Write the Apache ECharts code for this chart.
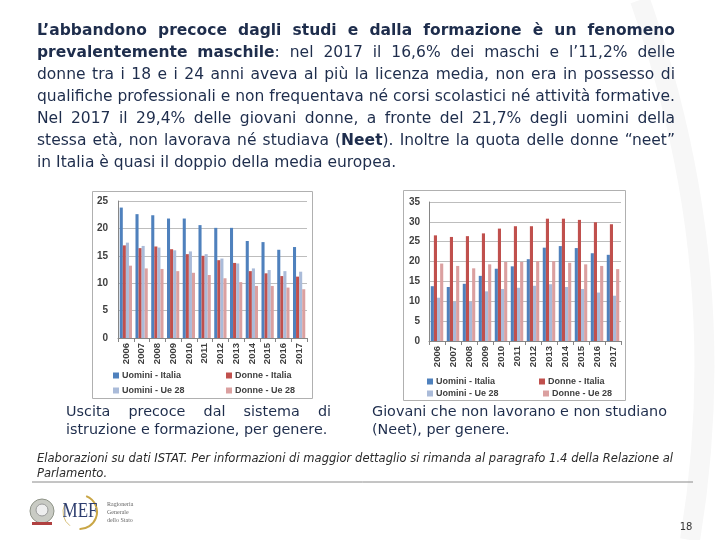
<!DOCTYPE html>
<html><head><meta charset="utf-8">
<script src="https://cdn.jsdelivr.net/npm/echarts@6/dist/echarts.min.js"></script>
<style>html,body{margin:0;padding:0;background:#fff}#c{width:720px;height:540px}</style>
</head><body><div id="c"></div>
<script>
// ---------- DATA ----------
const years = ['2006','2007','2008','2009','2010','2011','2012','2013','2014','2015','2016','2017'];
const seriesNames = ['Uomini - Italia','Donne - Italia','Uomini - Ue 28','Donne - Ue 28'];
// Chart 1: early leavers from education and training (%)
const elUominiItalia = [23.8,22.6,22.4,21.8,21.8,20.6,20.1,20.1,17.7,17.5,16.1,16.6];
const elDonneItalia  = [16.9,16.4,16.7,16.2,15.3,15.0,14.2,13.7,12.2,11.8,11.3,11.2];
const elUominiUe28   = [17.4,16.8,16.5,16.0,15.8,15.3,14.5,13.6,12.7,12.4,12.2,12.1];
const elDonneUe28    = [13.2,12.7,12.6,12.2,11.9,11.5,10.9,10.2,9.5,9.5,9.2,8.9];
// Chart 2: NEET (%)
const neetUominiItalia = [13.8,13.6,14.4,16.4,18.2,18.8,20.6,23.5,23.9,23.4,22.1,21.7];
const neetDonneItalia  = [26.6,26.2,26.4,27.1,28.3,28.9,28.9,30.8,30.8,30.5,29.9,29.4];
const neetUominiUe28   = [10.9,9.9,9.9,12.5,13.1,13.4,13.9,14.3,13.6,13.1,12.2,11.4];
const neetDonneUe28    = [19.5,18.9,18.3,19.3,19.9,19.9,20.1,20.1,19.7,19.3,18.9,18.1];
const y1Ticks = [0,5,10,15,20,25];
const y2Ticks = [0,5,10,15,20,25,30,35];

// ---------- TEXTS ----------
const titleLines = [
 "**L’abbandono precoce dagli studi e dalla formazione è un fenomeno**",
 "**prevalentemente maschile**: nel 2017 il 16,6% dei maschi e l’11,2% delle",
 "donne tra i 18 e i 24 anni aveva al più la licenza media, non era in possesso di",
 "qualifiche professionali e non frequentava né corsi scolastici né attività formative.",
 "Nel 2017 il 29,4% delle giovani donne, a fronte del 21,7% degli uomini della",
 "stessa età, non lavorava né studiava (**Neet**). Inoltre la quota delle donne “neet”",
 "in Italia è quasi il doppio della media europea."
];
const caption1 = ["Uscita precoce dal sistema di","istruzione e formazione, per genere."];
const caption2 = ["Giovani che non lavorano e non studiano","(Neet), per genere."];
const sourceLines = ["Elaborazioni su dati ISTAT. Per informazioni di maggior dettaglio si rimanda al paragrafo 1.4 della Relazione al","Parlamento."];
const pageNumber = "18";

// ---------- TEXT LAYOUT HELPERS ----------
const ctx = document.createElement('canvas').getContext('2d');
function parse(line){
  const words=[]; let cur=[]; let bold=false; let buf='';
  const flush=()=>{ if(buf){cur.push({t:buf,b:bold}); buf='';} };
  for(let i=0;i<line.length;i++){
    if(line[i]==='*'&&line[i+1]==='*'){ flush(); bold=!bold; i++; continue; }
    if(line[i]===' '){ flush(); if(cur.length) words.push(cur); cur=[]; continue; }
    buf+=line[i];
  }
  flush(); if(cur.length) words.push(cur);
  return words;
}
function fontOf(b,cfg){ return (cfg.italic?'italic ':'')+(b?'bold ':'')+cfg.size+'px '+cfg.fam; }
function segW(seg,cfg){ ctx.font=fontOf(seg.b,cfg); return ctx.measureText(seg.t).width; }
function wordW(w,cfg){ return w.reduce((s,g)=>s+segW(g,cfg),0); }
function spaceW(cfg){ ctx.font=fontOf(false,cfg); return ctx.measureText(' ').width; }
function natural(line,cfg){ const ws=parse(line); return ws.reduce((s,w)=>s+wordW(w,cfg),0)+spaceW(cfg)*(ws.length-1); }
function layLine(line,x0,x1,y,cfg,justify,out){
  const ws=parse(line), sc=cfg.scale;
  const widths=ws.map(w=>wordW(w,cfg)*sc);
  let gap=spaceW(cfg)*sc;
  if(justify&&ws.length>1) gap=(x1-x0-widths.reduce((a,b)=>a+b,0))/(ws.length-1);
  let x=x0;
  ws.forEach((w,i)=>{
    let xx=x;
    w.forEach(g=>{
      out.push({type:'text',x:xx,y:y,scaleX:sc,silent:true,
        style:{text:g.t,font:fontOf(g.b,cfg),fill:cfg.color,verticalAlign:'middle',textVerticalAlign:'middle'}});
      xx+=segW(g,cfg)*sc;
    });
    x+=widths[i]+gap;
  });
}

const graphics = [];
// faint background decoration
graphics.push({type:'bezierCurve',silent:true,z:-10,shape:{x1:640,y1:0,cpx1:735,cpy1:270,x2:690,y2:540},style:{stroke:'#f7f7f7',lineWidth:20,fill:null}});

const navy = '#1E2D4C';
const titleCfg = {size:15,fam:"'DejaVu Sans'",italic:false,color:navy};
titleCfg.scale = 638/natural(titleLines[3],titleCfg);
const titleY = [31,53,75,97,119,141,163];
titleLines.forEach((l,i)=>layLine(l,37,675,titleY[i],titleCfg,i<titleLines.length-1,graphics));

const capCfg = {size:14,fam:"'DejaVu Sans'",italic:false,color:navy};
capCfg.scale = (667-372)/natural(caption2[0],capCfg);
layLine(caption1[0],66,331,412,capCfg,true,graphics);
layLine(caption1[1],66,331,430,capCfg,false,graphics);
layLine(caption2[0],372,667,412,capCfg,false,graphics);
layLine(caption2[1],372,667,430,capCfg,false,graphics);

const srcCfg = {size:12,fam:"'DejaVu Sans'",italic:true,color:'#2a2a2a'};
srcCfg.scale = (673-37)/natural(sourceLines[0],srcCfg);
layLine(sourceLines[0],37,673,459,srcCfg,false,graphics);
layLine(sourceLines[1],37,673,474,srcCfg,false,graphics);

// rule
graphics.push({type:'line',silent:true,shape:{x1:32,y1:482,x2:693,y2:482},style:{stroke:'#8a8a8a',lineWidth:1}});
// chart boxes
graphics.push({type:'rect',silent:true,z:-1,shape:{x:92.5,y:191.5,width:220,height:207},style:{fill:'#fff',stroke:'#b0b0b0',lineWidth:1}});
graphics.push({type:'rect',silent:true,z:-1,shape:{x:403.5,y:190.5,width:222,height:210},style:{fill:'#fff',stroke:'#b0b0b0',lineWidth:1}});
// logos (simplified)
graphics.push({type:'circle',silent:true,shape:{cx:42,cy:511,r:12},style:{fill:'#c9cbc4',stroke:'#8f9488',lineWidth:1}});
graphics.push({type:'circle',silent:true,shape:{cx:42,cy:510,r:6},style:{fill:'#eeeeee',stroke:'#9a9a9a',lineWidth:1}});
graphics.push({type:'rect',silent:true,shape:{x:32,y:522,width:20,height:3},style:{fill:'#b04040'}});
graphics.push({type:'arc',silent:true,shape:{cx:80,cy:512,r:17,startAngle:-1.2,endAngle:1.6},style:{stroke:'#c9a646',lineWidth:2,fill:null}});
graphics.push({type:'arc',silent:true,shape:{cx:80,cy:512,r:17,startAngle:2.2,endAngle:3.6},style:{stroke:'#d8c07a',lineWidth:1,fill:null}});
graphics.push({type:'text',silent:true,x:80,y:512,scaleX:0.85,style:{text:'MEF',font:"20px 'Liberation Serif'",fill:'#2c3d6e',align:'center',verticalAlign:'middle',textAlign:'center',textVerticalAlign:'middle'}});
['Ragioneria','Generale','dello Stato'].forEach((t,i)=>graphics.push({type:'text',silent:true,x:107,y:504+i*8,style:{text:t,font:"6px 'Liberation Serif'",fill:'#666',verticalAlign:'middle',textVerticalAlign:'middle'}}));
graphics.push({type:'text',silent:true,x:686,y:527,style:{text:pageNumber,font:"10px 'DejaVu Sans'",fill:'#333',align:'center',verticalAlign:'middle',textAlign:'center',textVerticalAlign:'middle'}});

// ---------- CHART ----------
const colors = ['#4F81BD','#C0504D','#AABBD9','#DBA0A0'];
const lblFont = {fontFamily:"'Liberation Sans'",fontWeight:'bold',color:'#404040'};
function xAx(gi){ return {type:'category',gridIndex:gi,data:years,
  axisLine:{lineStyle:{color:'#868686'}},
  axisTick:{show:true,alignWithLabel:false,length:4,lineStyle:{color:'#868686'}},
  axisLabel:Object.assign({rotate:90,fontSize:9.5,margin:5,interval:0},lblFont)}; }
function yAx(gi,max,margin){ return {type:'value',gridIndex:gi,min:0,max:max,interval:5,
  axisLine:{show:true,lineStyle:{color:'#868686'}},axisTick:{show:false},
  splitLine:{lineStyle:{color:'#bdbdbd'}},
  axisLabel:Object.assign({fontSize:10,margin:margin},lblFont)}; }
function ser(name,data,gi,ci){ return {type:'bar',name:name,data:data,xAxisIndex:gi,yAxisIndex:gi,
  itemStyle:{color:colors[ci]},barGap:'0%',barCategoryGap:'22%',silent:true}; }
function leg(name,left,top){ return {data:[name],left:left,top:top,padding:0,itemWidth:6,itemHeight:6,icon:'rect',
  selectedMode:false,textStyle:{fontSize:9,fontFamily:"'Liberation Sans'",fontWeight:'bold',color:'#404040',padding:[0,0,0,-2]}}; }

const option = {
  animation:false,
  backgroundColor:'#ffffff',
  grid:[{left:118,top:201,width:189,height:137},{left:429,top:202,width:192,height:139}],
  xAxis:[xAx(0),xAx(1)],
  yAxis:[yAx(0,25,10),yAx(1,35,9)],
  legend:[
    leg(seriesNames[0],113,371), leg(seriesNames[1],226,371),
    leg(seriesNames[2],113,386), leg(seriesNames[3],226,386),
    leg(seriesNames[0],427,377), leg(seriesNames[1],539,377),
    leg(seriesNames[2],427,389), leg(seriesNames[3],543,389)
  ],
  series:[
    ser(seriesNames[0],elUominiItalia,0,0), ser(seriesNames[1],elDonneItalia,0,1),
    ser(seriesNames[2],elUominiUe28,0,2), ser(seriesNames[3],elDonneUe28,0,3),
    ser(seriesNames[0],neetUominiItalia,1,0), ser(seriesNames[1],neetDonneItalia,1,1),
    ser(seriesNames[2],neetUominiUe28,1,2), ser(seriesNames[3],neetDonneUe28,1,3)
  ],
  graphic:{elements:graphics}
};
const chart = echarts.init(document.getElementById('c'),null,{renderer:'canvas'});
chart.setOption(option);
</script></body></html>
